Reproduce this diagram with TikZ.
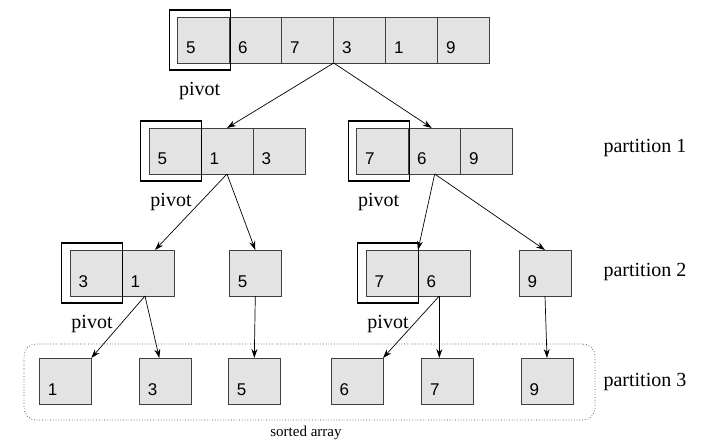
\documentclass[tikz,border=0pt]{standalone}
\usepackage{fontspec}
\setmainfont{Liberation Serif}
\setsansfont{Liberation Sans}
\usetikzlibrary{arrows.meta,positioning}

\begin{document}
\begin{tikzpicture}[x=1pt,y=-1pt,>={Stealth[length=9pt,width=6pt]},
  cell/.style={draw=black!75,line width=0.9pt,fill=black!11,outer sep=0pt,minimum width=52pt,minimum height=46pt,
    inner xsep=8.5pt,inner ysep=0pt,text width=35pt,align=left,text height=37pt,text depth=9pt,
    font=\sffamily\fontsize{17}{17}\selectfont},
  pivbox/.style={draw,line width=1.1pt,minimum width=61pt,minimum height=60pt,inner sep=0pt},
  lbl/.style={font=\fontsize{20}{20}\selectfont},
  link/.style={->,line width=0.7pt}]

  \useasboundingbox (0,0) rectangle (708,443);

  % whole array
  \node[cell] (t1) at (203.7,40) {5};
  \node[cell,right=0pt of t1] (t2) {6};
  \node[cell,right=0pt of t2] (t3) {7};
  \node[cell,right=0pt of t3] (t4) {3};
  \node[cell,right=0pt of t4] (t5) {1};
  \node[cell,right=0pt of t5] (t6) {9};
  \node[pivbox] (p0) at ([xshift=-4pt]t1.center) {};
  \node[lbl,below=8pt of p0] (pv0) {pivot};

  % partition 1
  \node[cell] (a1) at (175,151) {5};
  \node[cell,right=0pt of a1] (a2) {1};
  \node[cell,right=0pt of a2] (a3) {3};
  \node[pivbox] (p1) at ([xshift=-4pt]a1.center) {};
  \node[lbl,below=8pt of p1] (pv1) {pivot};

  \node[cell] (b1) at (382.7,151) {7};
  \node[cell,right=0pt of b1] (b2) {6};
  \node[cell,right=0pt of b2] (b3) {9};
  \node[pivbox] (p2) at ([xshift=-4pt]b1.center) {};
  \node[lbl,below=8pt of p2] (pv2) {pivot};

  % partition 2
  \node[cell] (c1) at (96,273) {3};
  \node[cell,right=0pt of c1] (c2) {1};
  \node[cell] (c3) at (255.3,273) {5};
  \node[pivbox] (p3) at ([xshift=-4pt]c1.center) {};
  \node[lbl,below=8pt of p3] (pv3) {pivot};

  \node[cell] (d1) at (392,273) {7};
  \node[cell,right=0pt of d1] (d2) {6};
  \node[cell] (d3) at (545,273) {9};
  \node[pivbox] (p4) at ([xshift=-4pt]d1.center) {};
  \node[lbl,below=8pt of p4] (pv4) {pivot};

  % partition 3
  \node[draw=black!75,line width=0.7pt,dotted,rounded corners=12pt,minimum width=571pt,minimum height=76pt] (srt) at (309.5,382) {};
  \node[font=\fontsize{15}{15}\selectfont,below=2pt of srt,xshift=-3.5pt] (srtlbl) {sorted array};
  \node[cell] (e1) at (65.3,381) {1};
  \node[cell] (e2) at (165.3,381) {3};
  \node[cell] (e3) at (254.3,381) {5};
  \node[cell] (e4) at (357,381) {6};
  \node[cell] (e5) at (447.7,381) {7};
  \node[cell] (e6) at (547,381) {9};

  \node[lbl,anchor=west] (part1) at (600,148) {partition 1};
  \node[lbl,anchor=west] (part2) at (600,272) {partition 2};
  \node[lbl,anchor=west] (part3) at (600,382) {partition 3};

  \path[link]
    (t3.south east) edge (a2.north)
                    edge ([xshift=-3pt]b2.north)
    (a2.south) edge ([xshift=7pt]c2.north)
               edge (c3.north)
    (b2.south) edge (d1.north east)
               edge (d3.north)
    ([xshift=-3pt]c2.south) edge (e1.north east)
                            edge ([xshift=-6pt]e2.north)
    (c3.south) edge (e3.north)
    ([xshift=-4.7pt]d2.south) edge (e4.north east)
                              edge ([xshift=-8.4pt]e5.north)
    (d3.south) edge (e6.north);

\end{tikzpicture}
\end{document}
